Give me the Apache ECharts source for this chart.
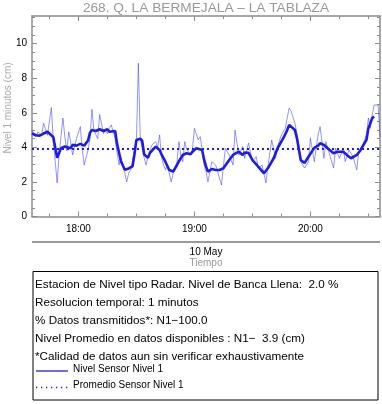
<!DOCTYPE html>
<html>
<head>
<meta charset="utf-8">
<script src="https://cdn.jsdelivr.net/npm/echarts@6/dist/echarts.min.js"></script>
<style>
html,body{margin:0;padding:0;background:#fff;}
#c{width:382px;height:404px;}
</style>
</head>
<body>
<div id="c"></div>
<script>
// ---- data ----
const rawTimes = ['17:36','17:37','17:38','17:39','17:41','17:42','17:44','17:46','17:47','17:48','17:49','17:50','17:52','17:53','17:54','17:55','17:56','17:57','17:58','17:59','18:01','18:02','18:03','18:05','18:06','18:07','18:08','18:10','18:11','18:13','18:14','18:15','18:16','18:17','18:19','18:20','18:21','18:22','18:23','18:25','18:26','18:27','18:28','18:29','18:30','18:31','18:32','18:34','18:35','18:36','18:37','18:38','18:40','18:41','18:42','18:43','18:44','18:45','18:46','18:48','18:49','18:50','18:51','18:52','18:53','18:54','18:55','18:56','18:58','18:59','19:00','19:02','19:03','19:04','19:05','19:06','19:07','19:09','19:11','19:12','19:14','19:16','19:18','19:20','19:21','19:23','19:25','19:26','19:28','19:30','19:32','19:33','19:35','19:37','19:38','19:40','19:42','19:43','19:45','19:47','19:49','19:50','19:52','19:54','19:55','19:57','19:59','20:00','20:02','20:04','20:05','20:07','20:08','20:10','20:12','20:13','20:15','20:17','20:18','20:20','20:22','20:24','20:25','20:27','20:29','20:30','20:31','20:32','20:33','20:35','20:36'];
const rawValues = [5.0,5.1,4.6,4.9,4.7,5.4,4.7,6.3,4.4,3.2,1.94,3.56,5.7,4.6,3.8,4.9,4.3,3.56,4.0,4.5,5.2,3.85,2.98,3.85,4.5,6.2,5.0,4.5,5.9,4.8,5.0,4.8,5.1,5.3,4.5,3.7,2.98,3.4,3.0,2.0,2.5,2.7,3.17,3.8,4.3,8.87,4.5,3.4,2.98,3.5,3.4,4.14,4.33,4.0,4.72,3.4,3.0,2.7,2.98,2.0,2.5,2.69,3.17,4.33,3.5,3.17,4.33,3.9,3.56,3.9,5.1,4.43,4.62,3.9,2.98,2.6,2.0,3.17,2.98,2.6,1.82,3.95,3.56,2.98,5.0,3.56,4.05,3.37,4.25,3.17,3.46,2.79,2.98,1.94,2.88,4.43,3.37,4.05,4.72,5.1,6.28,6.1,5.4,4.14,3.17,2.8,3.17,4.55,3.17,4.72,5.2,3.37,4.33,3.56,2.8,3.95,3.37,3.95,3.17,3.85,3.46,2.7,3.75,4.14,4.72,5.7,5.1,5.9,6.45,6.45,4.6];

const smoothTimes = ['17:36','17:38','17:39','17:40','17:42','17:44','17:45','17:47','17:49','17:51','17:53','17:54','17:56','17:57','17:59','18:01','18:03','18:05','18:06','18:07','18:09','18:11','18:13','18:15','18:16','18:17','18:19','18:20','18:22','18:24','18:26','18:27','18:28','18:29','18:30','18:32','18:33','18:34','18:36','18:37','18:38','18:40','18:42','18:43','18:45','18:47','18:49','18:51','18:52','18:54','18:56','18:58','18:59','19:01','19:02','19:04','19:05','19:06','19:07','19:09','19:11','19:13','19:15','19:18','19:20','19:21','19:23','19:25','19:26','19:28','19:30','19:33','19:36','19:38','19:41','19:43','19:46','19:48','19:49','19:50','19:52','19:53','19:55','19:57','19:59','20:02','20:04','20:05','20:07','20:10','20:12','20:14','20:15','20:17','20:19','20:21','20:24','20:26','20:29','20:30','20:32','20:33'];
const smoothValues = [4.8,4.7,4.75,4.68,4.8,4.9,4.95,4.6,3.4,3.95,4.05,4.15,3.95,4.15,4.1,4.2,4.1,4.4,4.85,5.0,4.95,5.05,4.95,5.05,4.9,4.95,4.95,4.2,3.2,2.7,2.78,2.72,2.9,3.6,4.43,4.5,4.37,3.6,3.39,3.68,3.6,4.04,3.85,3.6,3.17,2.69,2.6,2.98,3.2,3.56,3.66,3.6,3.75,3.95,4.04,3.85,3.3,2.9,2.6,2.75,2.69,2.69,2.79,3.27,3.56,3.5,3.75,3.56,3.7,3.68,3.27,2.88,2.5,2.79,3.37,3.95,4.53,5.0,5.3,5.33,5.0,4.55,3.27,3.1,3.46,3.97,4.1,4.24,4.14,3.85,3.66,3.75,3.66,3.75,3.55,3.37,3.56,3.85,4.43,5.1,5.7,5.78];

const meanTimes = ['17:36','20:36'];
const meanValues = [3.9, 3.9];

const xMajorTicks = ['18:00','19:00','20:00'];
const xMinorTicks = ['17:45','18:15','18:30','18:45','19:15','19:30','19:45','20:15','20:30'];
const yMajorTicks = [0,2,4,6,8,10];
const yMinorTicks = [0.5,1,1.5,2.5,3,3.5,4.5,5,5.5,6.5,7,7.5,8.5,9,9.5,10.5,11,11.5];

const xStart = '17:36', xEnd = '20:36';
const yMax = 11.6;

const titleText = '268. Q. LA BERMEJALA \u2013 LA TABLAZA';
const dateText = '10 May';
const xName = 'Tiempo';
const yName = 'Nivel 1 minutos (cm)';
const infoLines = [
  'Estacion de Nivel tipo Radar. Nivel de Banca Llena:  2.0 %',
  'Resolucion temporal: 1 minutos',
  '% Datos transmitidos*: N1\u2212100.0',
  'Nivel Promedio en datos disponibles : N1\u2212  3.9 (cm)',
  '*Calidad de datos aun sin verificar exhaustivamente'
];
const legendNames = ['Nivel Sensor Nivel 1', 'Promedio Sensor Nivel 1'];

// ---- helpers ----
function toMin(s){ const p = s.split(':').map(Number); return (p[0]-17)*60 + p[1]; }
function fmt(v){ const h = Math.floor(v/60)+17, m = Math.round(v%60); return h + ':' + String(m).padStart(2,'0'); }
function pairs(ts, vs){ return ts.map((t,i)=>[toMin(t), vs[i]]); }

const FONT = 'Liberation Sans, Arial, Helvetica, sans-serif';
const AX = '#8c8c8c';
const BLUE = '#1c1ce6';
const xmin = toMin(xStart), xmax = toMin(xEnd);

function xAx(pos, ticks, len, showLine, showLabel){
  return {
    type:'value', position:pos, min:xmin, max:xmax,
    axisLine:{show:showLine, onZero:false, lineStyle:{color:AX, width:1.5}},
    axisTick:{show:true, inside:true, length:len, customValues:ticks.map(toMin), lineStyle:{color:AX, width:1}},
    axisLabel:{show:showLabel, customValues:ticks.map(toMin), formatter:fmt, color:'#000', fontSize:10, fontFamily:FONT, margin:8},
    splitLine:{show:false}
  };
}
function yAx(pos, ticks, len, showLine, showLabel){
  return {
    type:'value', position:pos, min:0, max:yMax,
    axisLine:{show:showLine, onZero:false, lineStyle:{color:AX, width:1.5}},
    axisTick:{show:true, inside:true, length:len, customValues:ticks, lineStyle:{color:AX, width:1}},
    axisLabel:{show:showLabel, customValues:ticks, color:'#000', fontSize:10, fontFamily:FONT, margin:5},
    splitLine:{show:false}
  };
}

const chart = echarts.init(document.getElementById('c'), null, {renderer:'canvas'});
const boxX = 33, boxY = 271.5, boxW = 345, boxH = 128.5;
const lineCenters = [284.5, 302.5, 320.5, 339, 357];

const graphics = [
  {type:'text', x:206, y:8, style:{text:titleText, fill:'#999', font:'13.7px ' + FONT, align:'center', verticalAlign:'middle'}},
  {type:'line', shape:{x1:32, y1:242, x2:380, y2:242}, style:{stroke:'#9a9a9a', lineWidth:2}},
  {type:'text', x:206, y:252.5, style:{text:dateText, fill:'#000', font:'10px ' + FONT, align:'center', verticalAlign:'middle'}},
  {type:'text', x:206, y:263, style:{text:xName, fill:'#999', font:'10px ' + FONT, align:'center', verticalAlign:'middle'}},
  {type:'text', x:8, y:108, rotation:Math.PI/2, style:{text:yName, fill:'#aaa', font:'10px ' + FONT, align:'center', verticalAlign:'middle'}},
  {type:'rect', shape:{x:boxX, y:boxY, width:boxW, height:boxH}, style:{fill:'none', stroke:'#000', lineWidth:1}},
  {type:'line', shape:{x1:36, y1:371, x2:68, y2:371}, style:{stroke:BLUE, lineWidth:1.3}},
  {type:'text', x:73, y:369, style:{text:legendNames[0], fill:'#000', font:'10px ' + FONT, align:'left', verticalAlign:'middle'}},
  {type:'line', shape:{x1:36, y1:387.5, x2:68, y2:387.5}, style:{stroke:BLUE, lineWidth:1.3, lineDash:[1.3,3.7]}},
  {type:'text', x:73, y:385.5, style:{text:legendNames[1], fill:'#000', font:'10px ' + FONT, align:'left', verticalAlign:'middle'}}
];
infoLines.forEach((t,i)=>{
  graphics.push({type:'text', x:35, y:lineCenters[i], style:{text:t, fill:'#000', font:'11.7px ' + FONT, align:'left', verticalAlign:'middle'}});
});

chart.setOption({
  animation:false,
  backgroundColor:'#fff',
  grid:{left:32, right:2, top:16, bottom:187.5, containLabel:false},
  xAxis:[
    xAx('bottom', xMajorTicks, 5, true, true),
    xAx('bottom', xMinorTicks, 3, false, false),
    xAx('top', xMajorTicks, 5, true, false),
    xAx('top', xMinorTicks, 3, false, false)
  ],
  yAxis:[
    yAx('left', yMajorTicks, 5, true, true),
    yAx('left', yMinorTicks, 3, false, false),
    yAx('right', yMajorTicks, 5, true, false),
    yAx('right', yMinorTicks, 3, false, false)
  ],
  series:[
    {name:'raw', type:'line', xAxisIndex:0, yAxisIndex:0, data:pairs(rawTimes, rawValues), showSymbol:false, symbol:'none',
     lineStyle:{color:'rgba(60,60,255,0.55)', width:1}, z:2},
    {name:legendNames[0], type:'line', xAxisIndex:0, yAxisIndex:0, data:pairs(smoothTimes, smoothValues), showSymbol:false, symbol:'none',
     lineStyle:{color:BLUE, width:2.6}, z:3},
    {name:legendNames[1], type:'line', xAxisIndex:0, yAxisIndex:0, data:pairs(meanTimes, meanValues), showSymbol:false, symbol:'none',
     lineStyle:{color:BLUE, width:2, type:[2,3]}, z:4}
  ],
  graphic:graphics
});
</script>
</body>
</html>
